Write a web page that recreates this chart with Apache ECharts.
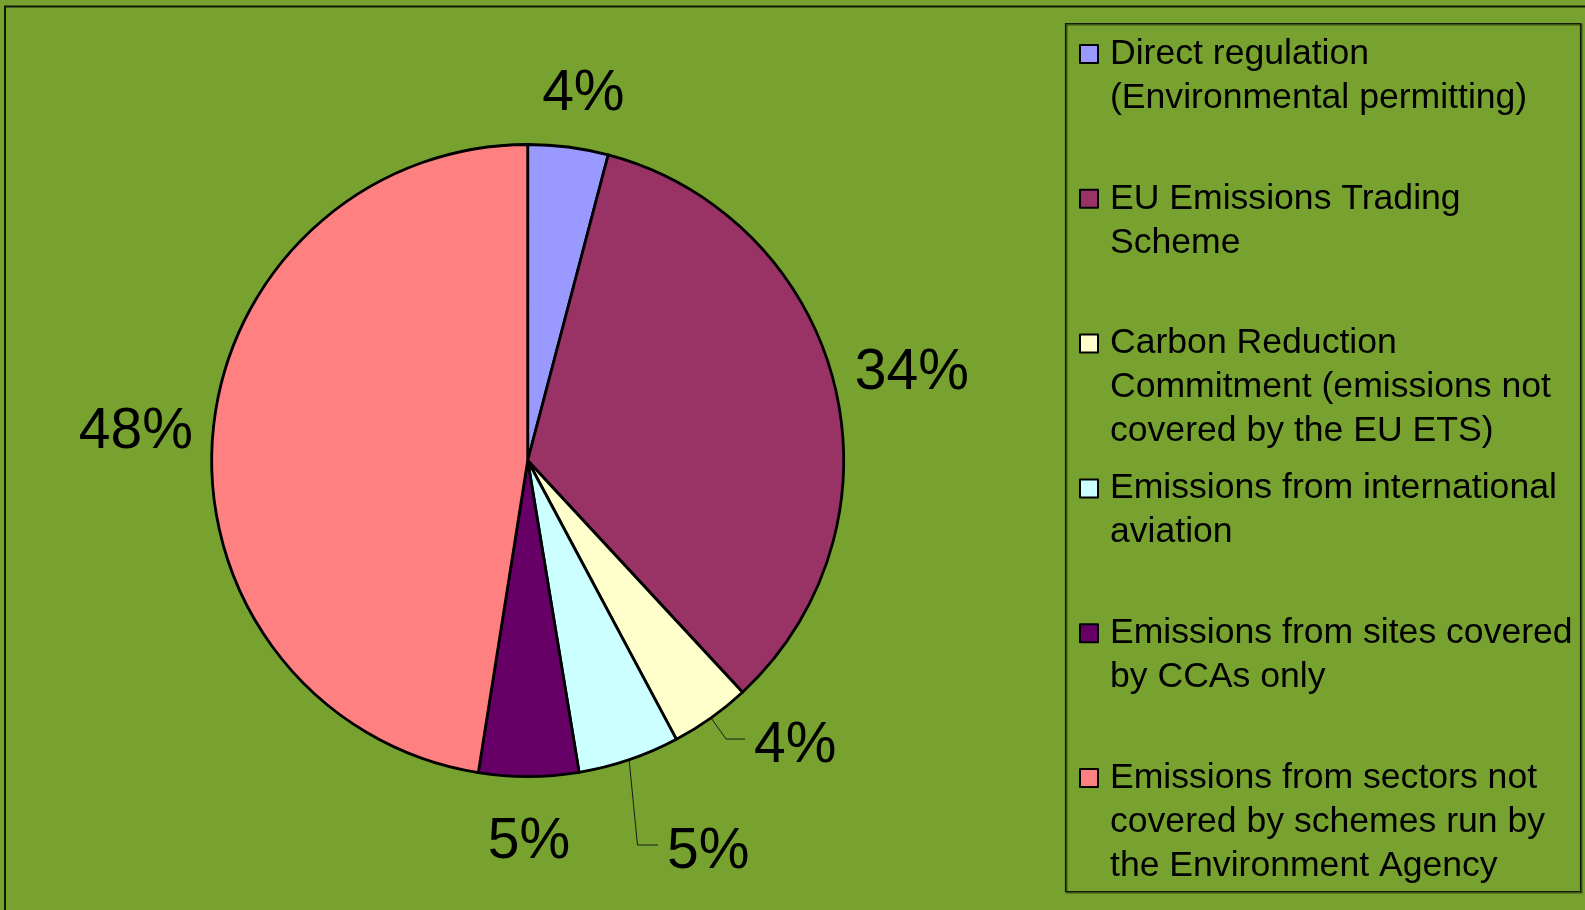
<!DOCTYPE html>
<html>
<head>
<meta charset="utf-8">
<script src="https://cdn.jsdelivr.net/npm/echarts@6/dist/echarts.min.js"></script>
<style>
html,body{margin:0;padding:0;background:#78A22F;}
#c{width:1585px;height:910px;}
</style>
</head>
<body>
<div id="c"></div>
<script>
// ---- data ----
const categories = [
  'Direct regulation (Environmental permitting)',
  'EU Emissions Trading Scheme',
  'Carbon Reduction Commitment (emissions not covered by the EU ETS)',
  'Emissions from international aviation',
  'Emissions from sites covered by CCAs only',
  'Emissions from sectors not covered by schemes run by the Environment Agency'
];
const legendLines = [
  ['Direct regulation', '(Environmental permitting)'],
  ['EU Emissions Trading', 'Scheme'],
  ['Carbon Reduction', 'Commitment (emissions not', 'covered by the EU ETS)'],
  ['Emissions from international', 'aviation'],
  ['Emissions from sites covered', 'by CCAs only'],
  ['Emissions from sectors not', 'covered by schemes run by', 'the Environment Agency']
];
const values = [4.1, 34.0, 4.1, 5.2, 5.1, 47.5];
const colors = ['#9999FF', '#993366', '#FFFFCC', '#CCFFFF', '#660066', '#FF8080'];

// ---- layout / style ----
const CX = 527.7, CY = 460.5, R = 316;
const FONT = 'Liberation Sans, Arial, sans-serif';
const labelGap = [33, 23, null, null, 46, 20];      // free labels: gap from rim
const labelNudgeX = [5.5, 0, 0, 0, 0, 0];
const leader = {
  2: {length: 26, length2: 19, shiftY: 7},
  3: {length: 90, length2: 0, bend: 0.29, shiftY: 7}
};
const LH = 44;

const total = values.reduce((a, b) => a + b, 0);
const cum = [];
values.reduce((acc, v, i) => { cum[i] = acc; return acc + v; }, 0);

const data = categories.map((name, i) => {
  const d = {name: name, value: values[i], itemStyle: {color: colors[i]}};
  if (leader[i]) {
    d.labelLine = {show: true, length: leader[i].length, length2: leader[i].length2};
  }
  return d;
});

const legends = categories.map((name, i) => {
  const n = legendLines[i].length;
  const hs = 44 * n - 44;                  // spacer line so the first line sits at the icon
  const iconTop = 45 + 144.8 * i;
  return {
    data: [{name: name}],
    left: 1079,
    top: iconTop - (44 * n - 31),
    orient: 'vertical',
    icon: 'rect',
    itemWidth: 18,
    itemHeight: 18,
    padding: 0,
    selectedMode: false,
    formatter: () => '{s|}\n' + legendLines[i].map(l => '{t|' + l + '}').join('\n'),
    itemStyle: {borderColor: '#000', borderWidth: 2},
    textStyle: {
      fontSize: 35.6, lineHeight: LH, fontFamily: FONT, color: '#000',
      padding: [0, 0, 0, 7],
      backgroundColor: 'rgba(0,0,0,0)',
      rich: {
        s: {fontSize: 1, lineHeight: hs, height: hs},
        t: {fontSize: 35.6, lineHeight: LH, fontFamily: FONT, color: '#000'}
      }
    }
  };
});

const chart = echarts.init(document.getElementById('c'), null, {renderer: 'canvas'});
chart.setOption({
  backgroundColor: '#78A22F',
  animation: false,
  legend: legends,
  graphic: [
    {type: 'rect', shape: {x: 5, y: 6.5, width: 1700, height: 1000},
     style: {fill: 'none', stroke: '#101808', lineWidth: 2}, silent: true},
    {type: 'rect', shape: {x: 1066.5, y: 24.5, width: 515, height: 868},
     style: {fill: 'none', stroke: '#3b5212', lineWidth: 2}, silent: true},
    {type: 'rect', shape: {x: 1065.5, y: 23.5, width: 515, height: 868},
     style: {fill: 'none', stroke: '#141c08', lineWidth: 1.2}, silent: true}
  ],
  series: [{
    type: 'pie',
    center: [CX, CY],
    radius: R,
    startAngle: 90,
    clockwise: true,
    avoidLabelOverlap: false,
    emphasis: {disabled: true},
    itemStyle: {borderColor: '#000', borderWidth: 2.8},
    label: {
      show: true,
      position: 'outside',
      fontSize: 57,
      fontFamily: FONT,
      color: '#000',
      distanceToLabelLine: 9,
      formatter: p => Math.round(p.value) + '%'
    },
    labelLine: {show: false, lineStyle: {color: '#1a1a1a', width: 1}},
    labelLayout: function (p) {
      const i = p.dataIndex;
      const r = p.labelRect;
      if (labelGap[i] == null) {
        const L = leader[i];
        const out = {
          x: r.x, y: r.y + r.height / 2 + L.shiftY,
          align: 'left', verticalAlign: 'middle'
        };
        if (p.labelLinePoints) {
          const a = p.labelLinePoints[0];
          const b = p.labelLinePoints[1];
          const c = p.labelLinePoints[p.labelLinePoints.length - 1];
          out.labelLinePoints = L.bend
            ? [a, [a[0] + (c[0] - a[0]) * L.bend, c[1]], c]
            : [a, b, c];
        }
        return out;
      }
      const th = 2 * Math.PI * (cum[i] + values[i] / 2) / total;
      const s = Math.sin(th), co = Math.cos(th);
      const d = R + labelGap[i];
      return {
        x: CX + d * s + (r.width / 2) * s + labelNudgeX[i],
        y: CY - d * co - 20 * co,
        align: 'center',
        verticalAlign: 'middle'
      };
    },
    data: data
  }]
});
</script>
</body>
</html>
